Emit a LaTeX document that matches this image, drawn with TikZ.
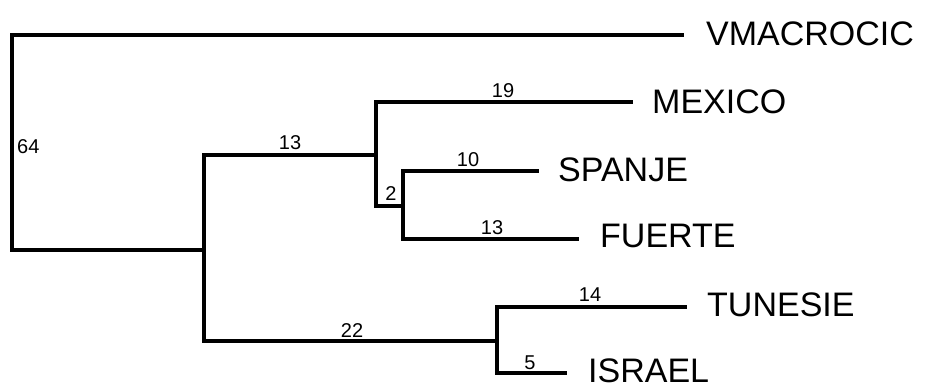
\documentclass[tikz,border=0pt]{standalone}
\usepackage{fontspec}
\setmainfont{Liberation Sans}
\begin{document}
\begin{tikzpicture}[x=1pt,y=-1pt,
  branch/.style={line width=3.6pt,line join=miter,line cap=rect},
  taxon/.style={anchor=base west,inner sep=0pt,font=\fontsize{34}{40}\selectfont},
  blen/.style={anchor=base,inner sep=0pt,font=\fontsize{20}{24}\selectfont}]
\useasboundingbox[fill=white] (0,0) rectangle (928,388);
% internal nodes
\coordinate (root) at (12,143);
\coordinate (nA) at (204,250);
\coordinate (nB) at (376,155);
\coordinate (nC) at (403,206);
\coordinate (nD) at (497,341);
% tips
\coordinate (tV) at (682,35);
\coordinate (tM) at (631,102);
\coordinate (tS) at (537,171);
\coordinate (tF) at (577,239);
\coordinate (tT) at (685,307);
\coordinate (tI) at (565,373);
% branches
\draw[branch] (root) |- (tV);
\draw[branch] (root) |- (nA);
\draw[branch] (nA) |- (nB);
\draw[branch] (nA) |- (nD);
\draw[branch] (nB) |- (tM);
\draw[branch] (nB) |- (nC);
\draw[branch] (nC) |- (tS);
\draw[branch] (nC) |- (tF);
\draw[branch] (nD) |- (tT);
\draw[branch] (nD) |- (tI);
% taxon labels
\node[taxon] (lV) at (706,45) {VMACROCIC};
\node[taxon] (lM) at (652,113) {MEXICO};
\node[taxon] (lS) at (558,181) {SPANJE};
\node[taxon] (lF) at (600,247) {FUERTE};
\node[taxon] (lT) at (707,316) {TUNESIE};
\node[taxon] (lI) at (588,382) {ISRAEL};
% branch lengths
\node[blen,anchor=base west] (b64) at (17,153) {64};
\node[blen] (b13a) at (290,149) {13};
\node[blen] (b19) at (503,97) {19};
\node[blen] (b10) at (468,166) {10};
\node[blen] (b2) at (391,200) {2};
\node[blen] (b13b) at (492,234) {13};
\node[blen] (b22) at (352,337) {22};
\node[blen] (b14) at (590,301) {14};
\node[blen] (b5) at (530,369) {5};
\end{tikzpicture}
\end{document}
